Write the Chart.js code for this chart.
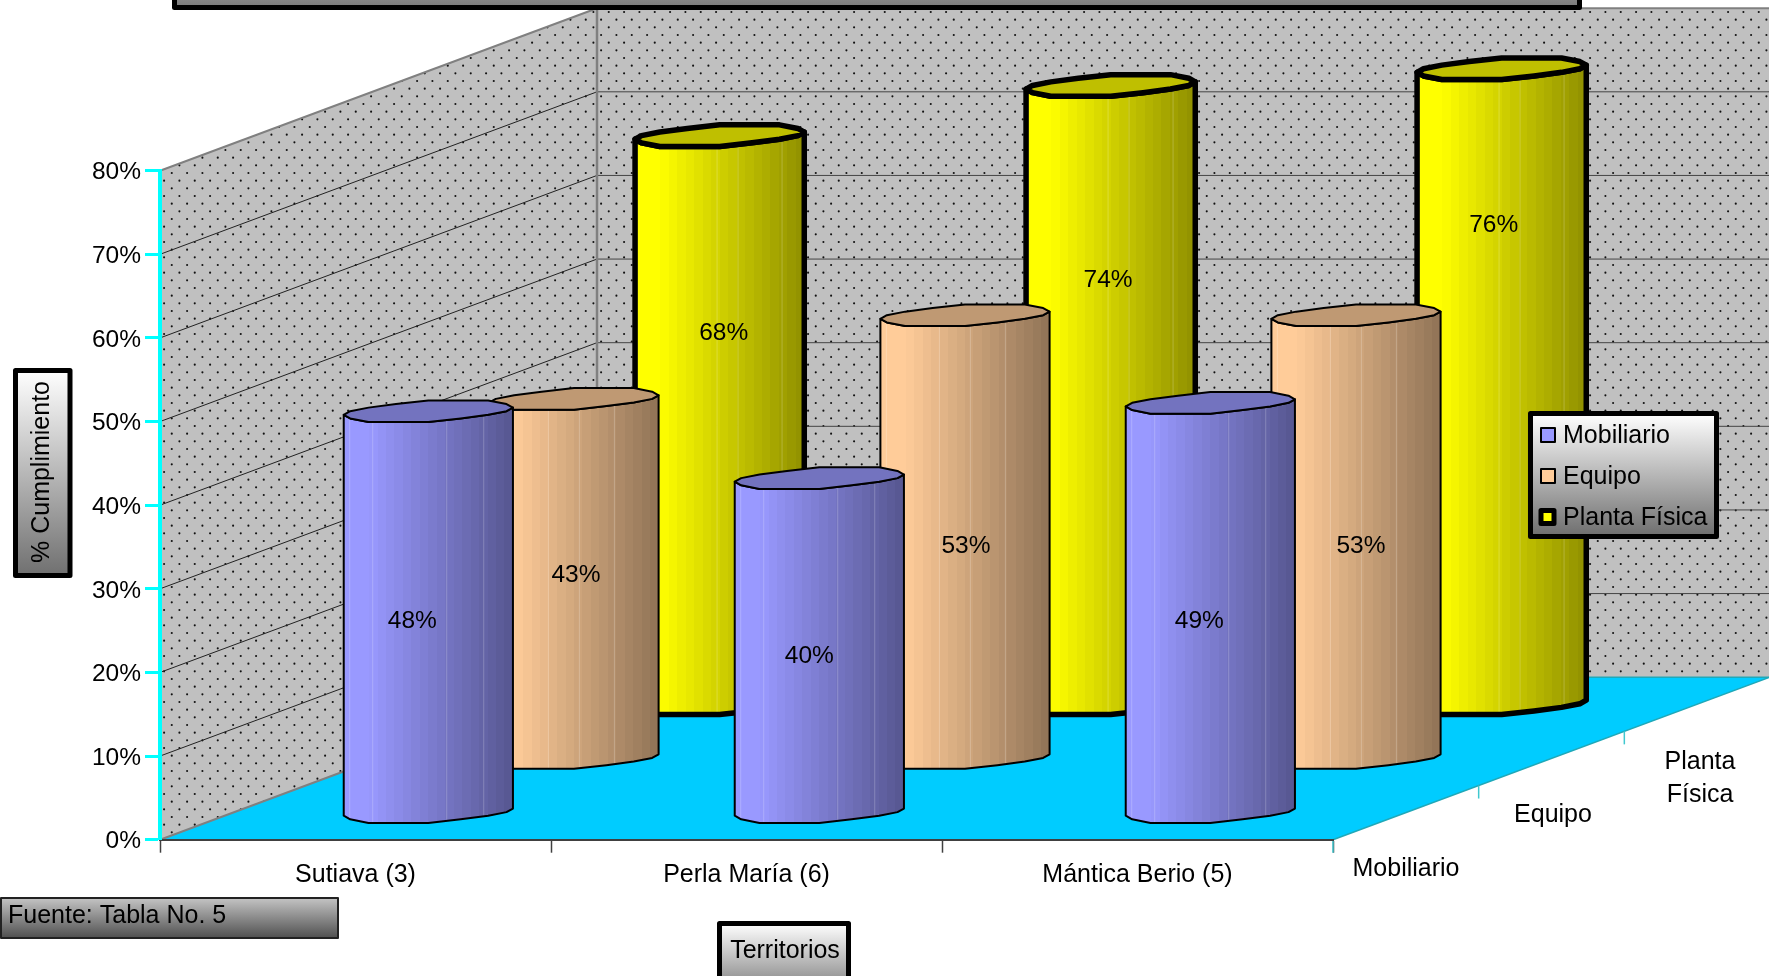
<!DOCTYPE html>
<html>
<head>
<meta charset="utf-8">
<title>% Cumplimiento por territorio</title>
<script src="https://cdn.jsdelivr.net/npm/chart.js@4/dist/chart.umd.min.js"></script>
<style>
html, body { margin: 0; padding: 0; background: #fff; overflow: hidden; }
canvas { display: block; }
</style>
</head>
<body>
<canvas id="chart" width="1769" height="976"></canvas>
<script>
const territorios = ['Sutiava (3)', 'Perla María (6)', 'Mántica Berio (5)'];
const mobiliario = [48, 40, 49];
const equipo = [43, 53, 53];
const plantaFisica = [68, 74, 76];
const yTicks = [0, 10, 20, 30, 40, 50, 60, 70, 80];
const fuente = 'Fuente: Tabla No. 5';

const FONT = '"Liberation Sans", Arial, sans-serif';
const DEPTH_X = 437, DEPTH_Y = 162.5;   // wall depth in pixels
const STEP_X = DEPTH_X / 3, STEP_Y = DEPTH_Y / 3;
const RING_X = 28.2, RING_Y = 10.5;     // how far a cylinder reaches into the depth
const RING_SNAP = 3.6;                  // the original outline is stepped like a low res drawing

// per series looks
const looks = [
    { rgb: [153, 153, 255], line: 2, streaks: [6, 29, 103, 140] },
    { rgb: [255, 204, 153], line: 2, streaks: [6, 59, 90, 125] },
    { rgb: [255, 255, 0], line: 5.5, streaks: [82, 103, 147] }
];

// the data labels were moved by hand in the original, [dx, dy] from the middle of the cylinder
const labelShift = [
    [[-16, 7.5], [-10, 9], [-11, 12]],
    [[2, -5], [1, 8], [5, 8]],
    [[4, -88], [-2.6, -116], [-8, -163]]
];

function shade(rgb, f) {
    return 'rgb(' + rgb.map(c => Math.round(c * f)).join(',') + ')';
}

function dotPattern(ctx) {
    const tile = document.createElement('canvas');
    tile.width = tile.height = 46;
    const t = tile.getContext('2d');
    t.fillStyle = '#c0c0c0';
    t.fillRect(0, 0, 46, 46);
    t.fillStyle = '#111';
    for (let r = 0; r < 3; r++) {
        for (let c = 0; c < 3; c++) {
            t.beginPath();
            t.arc(10.75 + c * 15.33, 12 + r * 15.33, 1.05, 0, Math.PI * 2);
            t.fill();
            t.beginPath();
            t.arc(3.1 + c * 15.33, 4.33 + r * 15.33, 1.05, 0, Math.PI * 2);
            t.fill();
        }
    }
    return ctx.createPattern(tile, 'repeat');
}

function poly(ctx, pts) {
    ctx.beginPath();
    pts.forEach((p, i) => i ? ctx.lineTo(p[0], p[1]) : ctx.moveTo(p[0], p[1]));
    ctx.closePath();
}

function line(ctx, x1, y1, x2, y2, color, w) {
    ctx.strokeStyle = color;
    ctx.lineWidth = w;
    ctx.beginPath();
    ctx.moveTo(x1, y1);
    ctx.lineTo(x2, y2);
    ctx.stroke();
}

function text(ctx, str, x, y, size, align) {
    ctx.font = size + 'px ' + FONT;
    ctx.fillStyle = '#000';
    ctx.textAlign = align || 'center';
    ctx.textBaseline = 'middle';
    ctx.fillText(str, x, y + 2);
}

function gradBox(ctx, x, y, w, h, top, bottom, border, borderColor) {
    const g = ctx.createLinearGradient(0, y, 0, y + h);
    g.addColorStop(0, top);
    g.addColorStop(1, bottom);
    ctx.fillStyle = g;
    ctx.fillRect(x, y, w, h);
    ctx.strokeStyle = borderColor;
    ctx.lineWidth = border;
    ctx.lineJoin = 'round';
    ctx.strokeRect(x, y, w, h);
}

// ring of a cylinder, first point is the rightmost one, middle point the leftmost
function ring(cx, cy, a) {
    const n = 16, t0 = Math.atan2(RING_X, a), pts = [];
    for (let k = 0; k < n; k++) {
        const t = t0 + k * 2 * Math.PI / n;
        const dy = -RING_Y * Math.sin(t);
        pts.push([cx + a * Math.cos(t) + RING_X * Math.sin(t), cy + Math.round(dy / RING_SNAP) * RING_SNAP]);
    }
    return pts;
}

function drawCylinder(ctx, bar, series) {
    const look = looks[series];
    const cx = bar.x + (series + 0.5) * STEP_X;
    const topY = bar.y - (series + 0.5) * STEP_Y;
    const baseY = bar.base - (series + 0.5) * STEP_Y;
    const top = ring(cx, topY, bar.width / 2);
    const bottom = ring(cx, baseY, bar.width / 2);
    const n = top.length;
    const left = top[n / 2][0], right = top[0][0];

    // body: left edge, front half of the base, right edge, front half of the top
    const body = [top[n / 2]];
    for (let k = n / 2; k < n; k++) body.push(bottom[k]);
    body.push(bottom[0], top[0]);
    for (let k = n - 1; k > n / 2; k--) body.push(top[k]);

    const bands = 20;
    const g = ctx.createLinearGradient(left, 0, right, 0);
    for (let b = 0; b < bands; b++) {
        const u = b / bands;
        const f = u < 0.12 ? 1 : 1 - 0.45 * (u - 0.12) / 0.88;
        g.addColorStop(u, shade(look.rgb, f));
        g.addColorStop((b + 1) / bands, shade(look.rgb, f));
    }
    poly(ctx, body);
    ctx.fillStyle = g;
    ctx.fill();

    ctx.save();
    poly(ctx, body);
    ctx.clip();
    look.streaks.forEach(s => line(ctx, left + s, topY, left + s, baseY + 20, 'rgba(255,255,255,0.22)', 1));
    ctx.restore();

    ctx.lineJoin = 'round';
    ctx.strokeStyle = '#000';
    ctx.lineWidth = look.line;
    poly(ctx, body);
    ctx.stroke();

    poly(ctx, top);
    ctx.fillStyle = shade(look.rgb, 0.75);
    ctx.fill();
    ctx.stroke();
}

const scene3d = {
    id: 'scene3d',
    beforeDatasetsDraw(chart) {
        const { ctx, scales: { x, y } } = chart;
        const x0 = x.left, x1 = x.right, y0 = y.getPixelForValue(0), yTop = y.getPixelForValue(80);
        ctx.save();

        // walls
        ctx.fillStyle = dotPattern(ctx);
        poly(ctx, [[x0, yTop], [x0 + DEPTH_X, yTop - DEPTH_Y], [x0 + DEPTH_X, y0 - DEPTH_Y], [x0, y0]]);
        ctx.fill();
        ctx.fillRect(x0 + DEPTH_X, yTop - DEPTH_Y, x1 - x0, y0 - yTop);

        // grid lines over both walls
        yTicks.slice(1, -1).forEach(v => {
            const p = y.getPixelForValue(v);
            line(ctx, x0, p, x0 + DEPTH_X, p - DEPTH_Y, '#222', 1);
            line(ctx, x0 + DEPTH_X, p - DEPTH_Y, x1 + DEPTH_X, p - DEPTH_Y, '#444', 1);
        });

        // floor
        poly(ctx, [[x0, y0], [x0 + DEPTH_X, y0 - DEPTH_Y], [x1 + DEPTH_X, y0 - DEPTH_Y], [x1, y0]]);
        ctx.fillStyle = '#00ccff';
        ctx.fill();

        // wall edges
        line(ctx, x0, yTop, x0 + DEPTH_X, yTop - DEPTH_Y, '#808080', 2);
        line(ctx, x0 + DEPTH_X, yTop - DEPTH_Y, x1 + DEPTH_X, yTop - DEPTH_Y, '#808080', 2);
        line(ctx, x0 + DEPTH_X, yTop - DEPTH_Y, x0 + DEPTH_X, y0 - DEPTH_Y, '#808080', 2.5);
        line(ctx, x0, y0, x0 + DEPTH_X, y0 - DEPTH_Y, '#808080', 2);
        line(ctx, x0 + DEPTH_X, y0 - DEPTH_Y, x1 + DEPTH_X, y0 - DEPTH_Y, '#20a8b8', 1.5);
        line(ctx, x1, y0, x1 + DEPTH_X, y0 - DEPTH_Y, '#20a8b8', 1.5);

        // depth axis ticks
        for (let s = 0; s < 3; s++) {
            line(ctx, x1 + s * STEP_X, y0 - s * STEP_Y, x1 + s * STEP_X, y0 - s * STEP_Y + 13, '#40c8d0', 1.5);
        }
        ctx.restore();
    },
    beforeDatasetDraw(chart, args) {
        const meta = chart.getDatasetMeta(args.index);
        chart.ctx.save();
        meta.data.forEach(bar => drawCylinder(chart.ctx, bar, args.index));
        chart.ctx.restore();
        return false; // the cylinder replaces the flat bar
    },
    afterDraw(chart) {
        const { ctx, data } = chart;
        ctx.save();

        // value labels
        data.datasets.forEach((ds, s) => {
            chart.getDatasetMeta(s).data.forEach((bar, c) => {
                const cx = bar.x + (s + 0.5) * STEP_X;
                const mid = (bar.y + bar.base) / 2 - (s + 0.5) * STEP_Y;
                text(ctx, ds.data[c] + '%', cx + labelShift[s][c][0], mid + labelShift[s][c][1], 24.5);
            });
        });

        // depth axis labels
        text(ctx, data.datasets[0].label, 1406, 867, 25);
        text(ctx, data.datasets[1].label, 1553, 813.5, 25);
        text(ctx, 'Planta', 1700, 760, 25);
        text(ctx, 'Física', 1700, 793, 25);

        // title box, its text falls outside the picture
        gradBox(ctx, 174.5, -80, 1405, 87.5, '#ffffff', '#7a7a7a', 5, '#000');

        // y title
        gradBox(ctx, 15.5, 370.5, 54.5, 205, '#ffffff', '#707070', 5, '#000');
        ctx.save();
        ctx.translate(42.5, 472);
        ctx.rotate(-Math.PI / 2);
        text(ctx, '% Cumplimiento', 0, -2, 25);
        ctx.restore();

        // x title
        gradBox(ctx, 719.5, 923.5, 129, 90, '#ffffff', '#555555', 5, '#000');
        text(ctx, 'Territorios', 785, 949, 25);

        // source note
        gradBox(ctx, 1, 898, 337, 40, '#c4c4c4', '#505050', 2, '#222');
        text(ctx, fuente, 8, 914, 25, 'left');

        // legend
        gradBox(ctx, 1530.5, 413.5, 186, 123, '#ffffff', '#6e6e6e', 5, '#000');
        const rows = [435, 476, 517];
        data.datasets.forEach((ds, s) => {
            const look = looks[s], r = rows[s];
            ctx.fillStyle = shade(look.rgb, 1);
            ctx.strokeStyle = '#000';
            ctx.lineJoin = 'round';
            if (s == 2) {
                ctx.lineWidth = 5;
                ctx.fillRect(1542, r - 6.5, 11, 11);
                ctx.strokeRect(1541, r - 6.5, 13, 13);
            } else {
                ctx.lineWidth = 2;
                ctx.fillRect(1541, r - 7, 14, 14);
                ctx.strokeRect(1541, r - 7, 14, 14);
            }
            text(ctx, ds.label, 1563, r - 1, 25, 'left');
        });
        ctx.restore();
    }
};

new Chart(document.getElementById('chart'), {
    type: 'bar',
    plugins: [scene3d],
    data: {
        labels: territorios,
        datasets: [
            { label: 'Mobiliario', data: mobiliario, backgroundColor: '#9999ff' },
            { label: 'Equipo', data: equipo, backgroundColor: '#ffcc99' },
            { label: 'Planta Física', data: plantaFisica, backgroundColor: '#ffff00' }
        ]
    },
    options: {
        responsive: false,
        animation: false,
        devicePixelRatio: 1,
        layout: { padding: { top: 170.7, right: 436, left: 0, bottom: 0 } },
        datasets: { bar: { grouped: false, categoryPercentage: 1, barPercentage: 0.408 } },
        plugins: { legend: { display: false }, title: { display: false }, tooltip: { enabled: false } },
        scales: {
            x: {
                afterFit(scale) { scale.height = 136.3; },
                grid: { drawOnChartArea: false, color: '#404040', tickLength: 13, tickWidth: 1.5 },
                border: { color: '#404040', width: 2, z: 1 },
                ticks: { color: '#000', padding: 7, maxRotation: 0, font: { family: FONT, size: 25 } }
            },
            y: {
                min: 0,
                max: 80,
                afterFit(scale) { scale.width = 160; },
                afterBuildTicks(scale) { scale.ticks = yTicks.map(v => ({ value: v })); },
                grid: { drawOnChartArea: false, color: '#00ffff', tickLength: 15, tickWidth: 3 },
                border: { color: '#00ffff', width: 4, z: 1 },
                ticks: { color: '#000', padding: 4, labelOffset: 2, font: { family: FONT, size: 24.5 }, callback: v => v + '%' }
            }
        }
    }
});
</script>
</body>
</html>
